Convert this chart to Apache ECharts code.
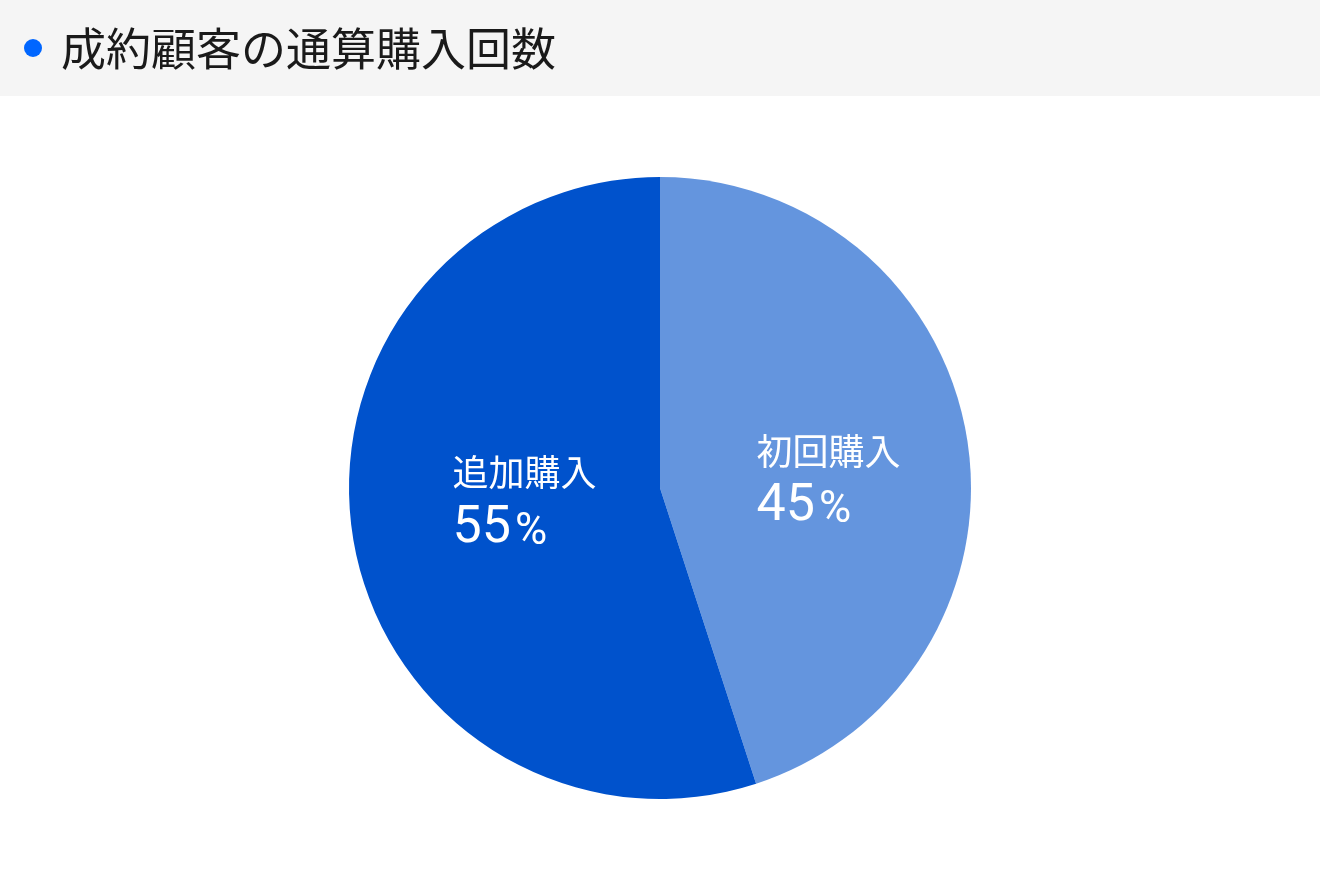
<!DOCTYPE html>
<html>
<head>
<meta charset="utf-8">
<script src="https://cdn.jsdelivr.net/npm/echarts@6/dist/echarts.min.js"></script>
<style>
html, body { margin: 0; padding: 0; background: #fff; }
#chart { width: 1320px; height: 880px; }
</style>
</head>
<body>
<div id="chart"></div>
<script>
var titleText = '成約顧客の通算購入回数';
var categories = ['初回購入', '追加購入'];
var values = [45, 55];
var colors = ['#6495de', '#0052cc'];
// nudges so the labels sit where the reference puts them
var labelOffsets = [[12, 18], [21, -10]];

var chart = echarts.init(document.getElementById('chart'));
var font = '"Noto Sans CJK JP", "Noto Sans", sans-serif';

var pieData = [];
for (var i = 0; i < categories.length; i++) {
    pieData.push({
        name: categories[i],
        value: values[i],
        itemStyle: { color: colors[i] },
        label: { offset: labelOffsets[i] }
    });
}

chart.setOption({
    animation: false,
    graphic: [
        { type: 'rect', shape: { x: 0, y: 0, width: 1320, height: 96 }, style: { fill: '#f5f5f5' }, z: 0 },
        { type: 'circle', shape: { cx: 33, cy: 48, r: 9 }, style: { fill: '#0066ff' }, z: 1 }
    ],
    title: {
        text: titleText,
        left: 56,
        top: 21,
        textStyle: { fontFamily: font, fontSize: 45, fontWeight: 'normal', color: '#1a1a1a' }
    },
    series: [{
        type: 'pie',
        center: [660, 488],
        radius: [0, 311],
        startAngle: 90,
        clockwise: true,
        avoidLabelOverlap: false,
        data: pieData,
        label: {
            position: 'inside',
            formatter: function (p) {
                return '{n|' + p.name + '}\n{v|' + p.value + '}{p|%}';
            },
            rich: {
                n: { fontFamily: font, fontSize: 36, color: '#fff', align: 'left', lineHeight: 52 },
                v: { fontFamily: 'Roboto, sans-serif', fontSize: 52, color: '#fff', align: 'left', lineHeight: 60 },
                p: { fontFamily: 'Roboto, sans-serif', fontSize: 44, color: '#fff', align: 'left', lineHeight: 60, verticalAlign: 'bottom', padding: [0, 0, 4, 4] }
            }
        },
        labelLine: { show: false },
        emphasis: { disabled: true }
    }]
});
</script>
</body>
</html>
